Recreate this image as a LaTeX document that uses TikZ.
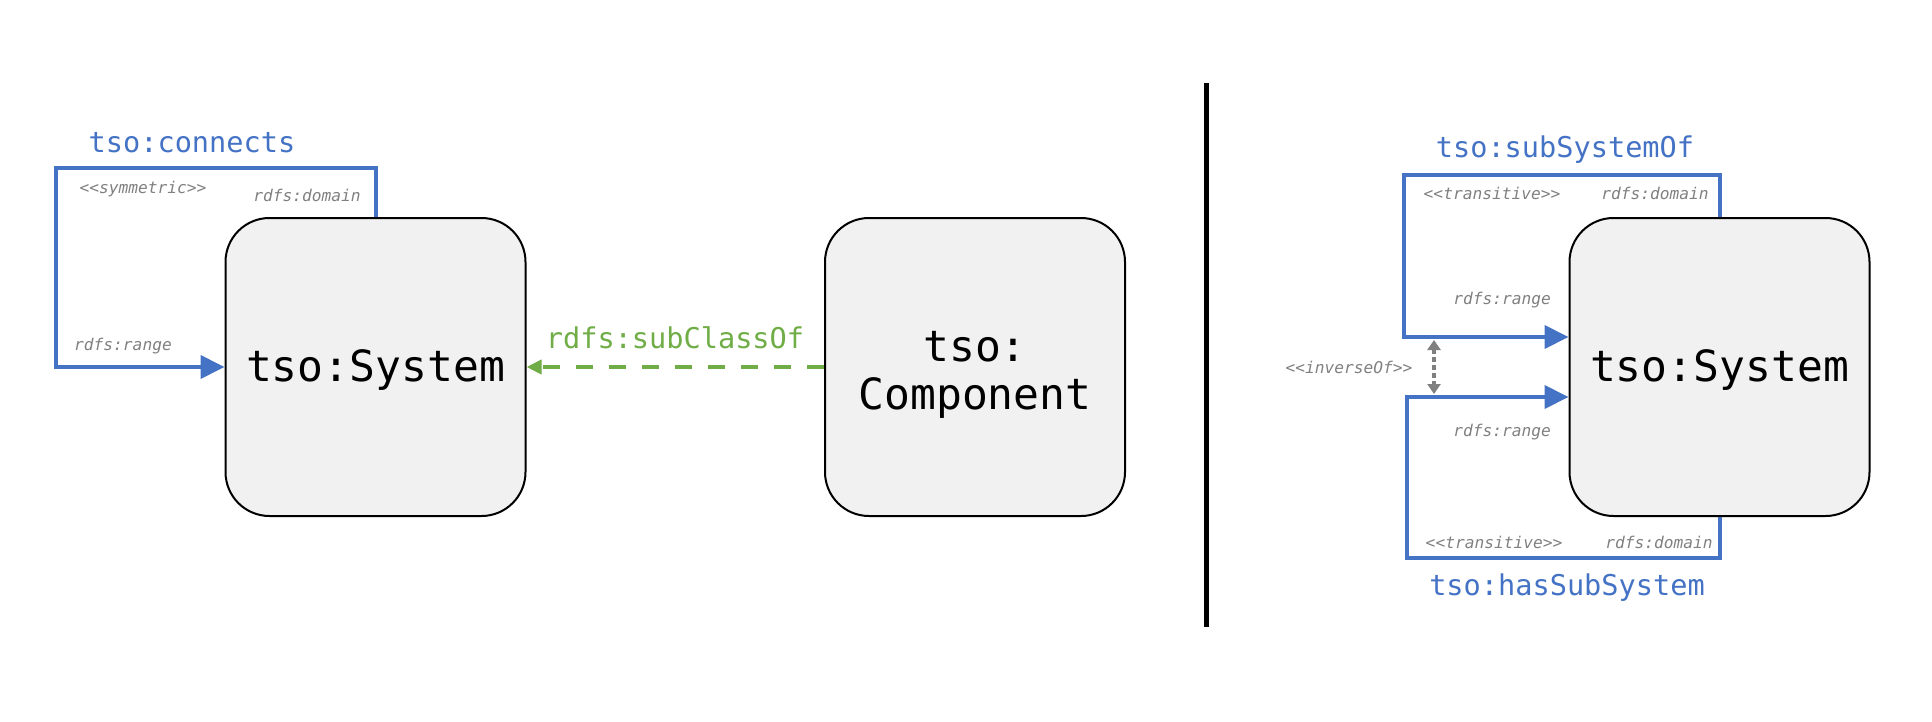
\documentclass[tikz,border=0pt]{standalone}
\usepackage{fontspec}
\setmonofont{DejaVu Sans Mono}
\usepackage{tikz}
\usetikzlibrary{arrows.meta,positioning,calc}
\definecolor{relblue}{HTML}{4472C4}
\definecolor{relgreen}{HTML}{70AD47}
\definecolor{notegray}{HTML}{808080}
\definecolor{classfill}{HTML}{F1F1F1}

\begin{document}
\begin{tikzpicture}[x=0.5pt,y=-0.5pt,every node/.style={font=\ttfamily},
  cls/.style={draw,line width=1pt,fill=classfill,rounded corners=22pt,
    minimum width=150pt,minimum height=149pt,inner sep=0pt,align=center,
    font=\ttfamily\fontsize{21.5}{24}\selectfont},
  prop/.style={text=relblue,font=\ttfamily\fontsize{14.3}{16}\selectfont},
  note/.style={text=notegray,font=\ttfamily\itshape\fontsize{8.1}{10}\selectfont},
  rel/.style={draw=relblue,line width=2pt,-{Triangle[length=12pt,width=11.5pt]}},
  subcls/.style={draw=relgreen,line width=2pt,dash pattern=on 8.5pt off 8pt,
    -{Triangle[length=7.5pt,width=7pt]}},
  inv/.style={draw=notegray,line width=2pt,dash pattern=on 2.5pt off 1.5pt,
    {Triangle[length=5pt,width=6.5pt]}-{Triangle[length=5pt,width=6.5pt]}}]
  \useasboundingbox (0,0) rectangle (1932,722);

  \node[cls] (sysL) at (375.5,367) {\raisebox{-1.5pt}[\height][\depth]{tso:System}};
  \node[cls] (comp) at (975,367)
    {\raisebox{-4.5pt}[\height][\depth]{\begin{tabular}{@{}c@{}}tso:\\Component\end{tabular}}};
  \node[cls] (sysR) at (1719.5,367) {\raisebox{-1.5pt}[\height][\depth]{tso:System}};

  \draw[line width=2.5pt] (1206,83) -- (1206,627);

  \coordinate (cL) at (56,168);
  \draw[rel] (sysL.north) |- (cL) |- (sysL.west);
  \node[prop] (connects) at (192,143) {tso:connects};
  \node[note] (symL) at (143,189) {<{}<symmetric>{}>};
  \node[note] (domL) at (307,195) {rdfs:domain};
  \node[note] (rngL) at (123,346) {rdfs:range};

  \draw[subcls] (comp.west) -- (sysL.east);
  \node[text=relgreen,font=\ttfamily\fontsize{14.3}{16}\selectfont] (subcl) at (675,338) {rdfs:subClassOf};

  \coordinate (cT) at (1404,175);
  \coordinate (inT) at ($(sysR.west)+(0,-30)$);
  \draw[rel] (sysR.north) |- (cT) |- (inT);
  \node[prop] (subof) at (1565,150) {tso:subSystemOf};
  \node[note] (trT) at (1492,193) {<{}<transitive>{}>};
  \node[note] (domT) at (1655,193) {rdfs:domain};
  \node[note] (rngT) at (1502,300) {rdfs:range};

  \coordinate (cB) at (1407,558);
  \coordinate (inB) at ($(sysR.west)+(0,30)$);
  \draw[rel] (sysR.south) |- (cB) |- (inB);
  \node[prop] (hassub) at (1567,588) {tso:hasSubSystem};
  \node[note] (trB) at (1494,542) {<{}<transitive>{}>};
  \node[note] (domB) at (1659,542) {rdfs:domain};
  \node[note] (rngB) at (1502,432) {rdfs:range};

  \coordinate (gT) at (1434,340);
  \coordinate (gB) at (1434,394);
  \draw[inv] (gT) -- (gB);
  \node[note] (invof) at (1349,367) {<{}<inverseOf>{}>};
\end{tikzpicture}
\end{document}
